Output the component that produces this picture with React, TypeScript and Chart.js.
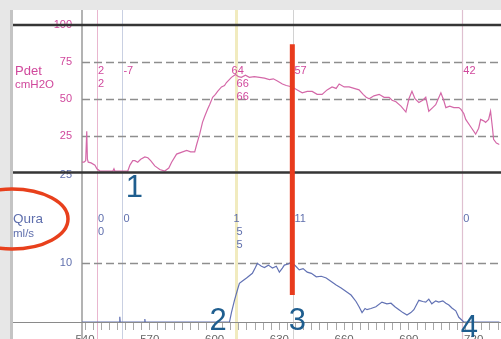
import React, { useEffect, useRef } from 'react';
import { Chart, registerables } from 'chart.js';

Chart.register(...registerables);

// ---- data (time in s) ----
const pdetTime = [538.6, 539.5, 540.3, 540.8, 541.1, 541.5, 542.8, 544.6, 545.5, 546.9, 552.9, 553.4, 553.8, 559.8, 560.8, 562.1, 563.1, 564.4, 565.8, 567.7, 569.1, 570.4, 572.3, 574.6, 576.9, 578.8, 580.1, 582.4, 585.2, 587.1, 588.9, 590.8, 591.7, 593.1, 594.4, 595.4, 596.8, 597.7, 599.1, 600.4, 601.4, 603.2, 604.6, 605.5, 607.8, 609.7, 611.1, 612.4, 614.3, 616.1, 618.4, 620.8, 623.1, 625.4, 627.2, 629.1, 631.4, 633.2, 636.0, 638.3, 640.6, 642.9, 645.2, 647.5, 649.8, 652.1, 654.4, 656.3, 657.7, 660.0, 662.3, 664.6, 666.9, 668.8, 670.2, 671.6, 673.8, 676.2, 678.5, 680.8, 682.2, 684.0, 686.3, 688.6, 690.0, 691.4, 692.8, 694.6, 696.4, 697.8, 699.2, 701.0, 702.4, 704.8, 706.1, 707.1, 708.9, 710.8, 713.1, 714.0, 715.4, 716.3, 718.6, 720.9, 722.3, 723.2, 724.6, 725.5, 726.9, 727.8, 728.7, 729.2, 730.5, 731.9];
const pdetValue = [7, 7, 8, 28, 9, 7, 6.5, 5, 2.5, 1, 1, 2.5, 1, 1, 5, 8, 8, 7, 9, 10.5, 10, 8, 4.5, 2, 1, 3, 7, 12.5, 14, 15, 14, 14, 19, 26, 34, 38, 43, 46, 51, 53, 55, 58, 59, 61, 64.5, 66.5, 65, 64.5, 66, 64.5, 65, 64.5, 64, 63, 63.5, 62, 60, 59, 58, 56, 54, 55, 55, 53, 53, 56, 58, 57, 60, 58, 58, 57, 56, 53, 51, 50, 52, 53, 51, 51, 49, 48, 45, 41, 50, 55, 50, 47.5, 49, 51, 41.5, 44, 46, 54, 49, 44, 45, 44, 44, 43, 40, 36, 31, 26, 30, 36, 35, 34, 36, 41.5, 30, 22.5, 20, 19];

const quraTime = [538.6, 555.9, 556.1, 556.3, 567.5, 567.7, 567.9, 606.9, 607.8, 609.2, 610.6, 611.5, 612.9, 614.8, 616.1, 617.5, 618.9, 619.8, 621.7, 623.1, 624.9, 626.8, 628.6, 630.0, 631.4, 632.3, 634.1, 635.5, 637.4, 639.2, 641.0, 642.9, 644.8, 647.1, 649.4, 651.7, 654.0, 656.3, 658.6, 660.9, 663.2, 665.5, 666.9, 668.3, 669.7, 670.6, 672.4, 674.7, 677.5, 679.8, 681.7, 683.5, 685.4, 687.2, 689.1, 690.9, 692.3, 694.6, 696.4, 697.8, 699.2, 700.6, 702.4, 703.8, 705.7, 707.1, 708.5, 709.9, 711.7, 713.1, 715.4, 732.0];
const quraValue = [0, 0, 0.9, 0, 0, 0.5, 0, 0, 1.6, 3.7, 5.5, 6.6, 7.0, 7.5, 7.9, 8.3, 9.3, 10.0, 9.5, 9.3, 9.7, 9.2, 9.5, 8.5, 9.2, 9.7, 9.9, 10.2, 9.6, 8.9, 9.1, 8.5, 8.3, 7.7, 7.8, 7.5, 6.9, 6.3, 5.8, 5.2, 4.6, 3.5, 2.6, 1.6, 2.3, 2.1, 2.3, 2.6, 3.4, 3.1, 3.2, 2.6, 2.1, 1.6, 1.2, 1.6, 2.1, 3.7, 3.5, 3.4, 3.9, 3.1, 3.6, 3.4, 3.6, 3.2, 2.9, 2.4, 1.9, 0.8, 0, 0];

const xMajorTicks = [540, 570, 600, 630, 660, 690, 720];
const pdetTicks = [25, 50, 75, 100];
const quraTicks = [10, 25];

const eventTimes = [545.5, 557.3, 609.7, 636.5, 714.7];
const pdetEventLabels = [['2', '2'], ['-7'], ['64', '66', '66'], ['57'], ['42']];
const quraEventLabels = [['0', '0'], ['0'], ['1', '5', '5'], ['11'], ['0']];

const markerTime = 636.0;
const markerRange = [87, 4.6]; // Pdet top value, Qura bottom value

const stepLabels = ['1', '2', '3', '4'];
const stepTimes = [558.9, 597.7, 634.3, 714.0];
const stepQura = [21.3, -1.37, -1.37, -2.56];

// ---- styles ----
const FONT = '"Liberation Sans", Arial, sans-serif';
const PDET_COLOR = '#d0489c';
const QURA_COLOR = '#5f6fad';
const eventColors = ['#e9b6cf', '#c9d0e2', '#f1ebbf', '#d2d2d2', '#dfc0d0'];
const eventWidths = [1, 1, 3, 1, 1.2];

const decor = {
  id: 'decor',
  beforeDraw(chart: any) {
    const { ctx, width, height } = chart;
    ctx.save();
    ctx.fillStyle = '#e7e7e7';
    ctx.fillRect(0, 0, width, height);
    ctx.fillStyle = '#ffffff';
    ctx.fillRect(13, 10, width - 13, height - 10);
    ctx.fillStyle = '#c4c4c4';
    ctx.fillRect(10, 10, 3, height - 10);
    ctx.restore();
  },
  beforeDatasetsDraw(chart: any) {
    const { ctx, chartArea, scales, height } = chart;
    const x = scales.x, yP = scales.y, yQ = scales.y2;
    ctx.save();
    // event lines
    eventTimes.forEach((t, i) => {
      const px = Math.round(x.getPixelForValue(t)) + 0.5;
      ctx.strokeStyle = eventColors[i];
      ctx.lineWidth = eventWidths[i];
      ctx.beginPath();
      ctx.moveTo(px, 10);
      ctx.lineTo(px, height);
      ctx.stroke();
    });
    // y axis line
    ctx.strokeStyle = '#9a9a9a';
    ctx.lineWidth = 1.5;
    ctx.beginPath();
    ctx.moveTo(chartArea.left, 10);
    ctx.lineTo(chartArea.left, height);
    ctx.stroke();
    // dashed grid
    ctx.strokeStyle = '#8e8e8e';
    ctx.lineWidth = 1.5;
    ctx.setLineDash([8, 4]);
    [25, 50, 75].forEach((v) => {
      const py = Math.round(yP.getPixelForValue(v)) + 0.5;
      ctx.beginPath();
      ctx.moveTo(chartArea.left, py);
      ctx.lineTo(chartArea.right, py);
      ctx.stroke();
    });
    {
      const py = Math.round(yQ.getPixelForValue(10)) + 0.5;
      ctx.beginPath();
      ctx.moveTo(chartArea.left, py);
      ctx.lineTo(chartArea.right, py);
      ctx.stroke();
    }
    ctx.setLineDash([]);
    // event labels
    ctx.font = '11px ' + FONT;
    ctx.textBaseline = 'middle';
    ctx.textAlign = 'left';
    const pRows = [yP.getPixelForValue(68.7), yP.getPixelForValue(59.9), yP.getPixelForValue(51.1)];
    const qRows = [yQ.getPixelForValue(17.6), yQ.getPixelForValue(15.4), yQ.getPixelForValue(13.2)];
    eventTimes.forEach((t, i) => {
      const px = x.getPixelForValue(t) + 1;
      ctx.fillStyle = PDET_COLOR;
      pdetEventLabels[i].forEach((s, r) => ctx.fillText(s, px - (i === 2 && r === 0 ? 5 : 0), pRows[r]));
      ctx.fillStyle = QURA_COLOR;
      quraEventLabels[i].forEach((s, r) => ctx.fillText(s, px - (i === 2 && r === 0 ? 3 : 0), qRows[r]));
    });
    ctx.restore();
  },
  afterDatasetsDraw(chart: any) {
    const { ctx, chartArea, scales, width } = chart;
    const x = scales.x, yP = scales.y, yQ = scales.y2;
    ctx.save();
    // black frame lines
    ctx.strokeStyle = '#353535';
    ctx.lineWidth = 2.5;
    [yP.getPixelForValue(100), yP.getPixelForValue(0)].forEach((py) => {
      ctx.beginPath();
      ctx.moveTo(13, py);
      ctx.lineTo(width, py);
      ctx.stroke();
    });
    // bottom axis line
    ctx.strokeStyle = '#8a8a8a';
    ctx.lineWidth = 1;
    ctx.beginPath();
    ctx.moveTo(13, chartArea.bottom + 0.5);
    ctx.lineTo(width, chartArea.bottom + 0.5);
    ctx.stroke();
    // red marker line
    const mx = x.getPixelForValue(markerTime);
    ctx.strokeStyle = '#e83b1d';
    ctx.lineWidth = 5;
    ctx.beginPath();
    ctx.moveTo(mx, yP.getPixelForValue(markerRange[0]));
    ctx.lineTo(mx, yQ.getPixelForValue(markerRange[1]));
    ctx.stroke();
    // axis titles
    ctx.textAlign = 'left';
    ctx.textBaseline = 'alphabetic';
    ctx.fillStyle = PDET_COLOR;
    ctx.font = '13px ' + FONT;
    ctx.fillText('Pdet', 15, 75);
    ctx.font = '11.5px ' + FONT;
    ctx.fillText('cmH2O', 15, 88);
    ctx.fillStyle = QURA_COLOR;
    ctx.font = '13.5px ' + FONT;
    ctx.fillText('Qura', 13, 223);
    ctx.font = '11.5px ' + FONT;
    ctx.fillText('ml/s', 13, 237);
    // red ellipse
    ctx.strokeStyle = '#e8401c';
    ctx.lineWidth = 3.5;
    ctx.beginPath();
    ctx.ellipse(12, 219, 56, 30, 0, 0, Math.PI * 2);
    ctx.stroke();
    // step numbers
    ctx.fillStyle = '#1f5e8f';
    ctx.font = '31px ' + FONT;
    stepLabels.forEach((s, i) => {
      ctx.fillText(s, x.getPixelForValue(stepTimes[i]), yQ.getPixelForValue(stepQura[i]));
    });
    ctx.restore();
  },
};

export default function App() {
  const ref = useRef<HTMLCanvasElement>(null);
  useEffect(() => {
    const minor: number[] = [];
    for (let v = xMajorTicks[0]; v <= 732; v += 3.75) minor.push(v);
    const chart = new Chart(ref.current as HTMLCanvasElement, {
      type: 'line',
      data: {
        datasets: [
          {
            label: 'Pdet',
            data: pdetTime.map((t, i) => ({ x: t, y: pdetValue[i] })),
            yAxisID: 'y',
            borderColor: '#d468a8',
            borderWidth: 1.2,
            pointRadius: 0,
            tension: 0,
          },
          {
            label: 'Qura',
            data: quraTime.map((t, i) => ({ x: t, y: quraValue[i] })),
            yAxisID: 'y2',
            borderColor: '#6272b4',
            borderWidth: 1.2,
            pointRadius: 0,
            tension: 0,
          },
        ],
      },
      options: {
        responsive: false,
        animation: false,
        layout: { padding: { top: 25, left: 0, right: 0, bottom: 0 } },
        plugins: { legend: { display: false }, tooltip: { enabled: false } },
        scales: {
          x: {
            type: 'linear',
            min: 538.6,
            max: 732,
            afterBuildTicks: (s: any) => {
              s.ticks = minor.map((v) => ({ value: v }));
            },
            afterFit: (s: any) => {
              s.height = 17;
            },
            grid: { display: true, drawOnChartArea: false, drawTicks: true, tickLength: 8, color: '#a8a8a8' },
            border: { display: false },
            ticks: {
              autoSkip: false,
              maxRotation: 0,
              minRotation: 0,
              padding: 3,
              color: '#666666',
              font: { family: FONT, size: 11.5 },
              callback: (v: any) => (xMajorTicks.includes(Number(v)) ? String(v) : ''),
            },
          },
          y2: {
            type: 'linear',
            position: 'left',
            stack: 'v',
            stackWeight: 149.5,
            min: 0,
            max: 25.5,
            afterBuildTicks: (s: any) => {
              s.ticks = [0, ...quraTicks].map((v) => ({ value: v }));
            },
            afterFit: (s: any) => {
              s.width = 82;
            },
            grid: { display: false },
            border: { display: false },
            ticks: {
              padding: 2,
              color: QURA_COLOR,
              font: { family: FONT, size: 11 },
              callback: (v: any) => (quraTicks.includes(Number(v)) ? String(v) : ''),
            },
          },
          y: {
            type: 'linear',
            position: 'left',
            stack: 'v',
            stackWeight: 147.5,
            min: 0,
            max: 100,
            afterBuildTicks: (s: any) => {
              s.ticks = [0, ...pdetTicks].map((v) => ({ value: v }));
            },
            afterFit: (s: any) => {
              s.width = 82;
            },
            grid: { display: false },
            border: { display: false },
            ticks: {
              padding: 2,
              color: PDET_COLOR,
              font: { family: FONT, size: 11 },
              callback: (v: any) => (pdetTicks.includes(Number(v)) ? String(v) : ''),
            },
          },
        },
      },
      plugins: [decor],
    } as any);
    return () => chart.destroy();
  }, []);
  return (
    <canvas
      ref={ref}
      width={501}
      height={339}
      style={{ position: 'absolute', left: 0, top: 0, width: 501, height: 339 }}
    />
  );
}
